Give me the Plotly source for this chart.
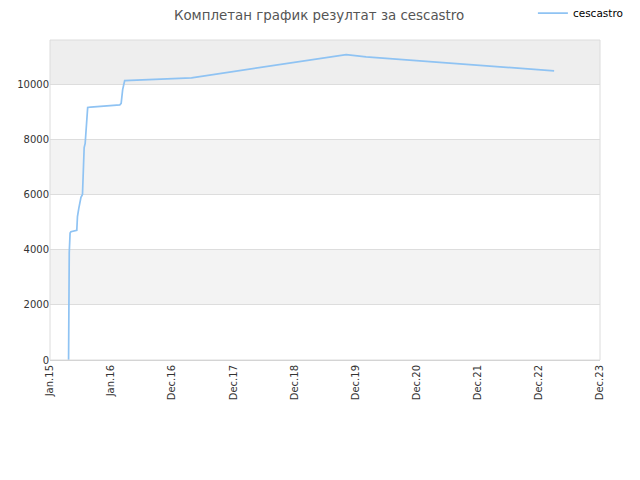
import plotly.graph_objects as go
import pandas as pd

title = "Комплетан график резултат за cescastro"
series_name = "cescastro"

dates = [
    "2015-04-22", "2015-04-23", "2015-04-26", "2015-05-01", "2015-05-06",
    "2015-06-10", "2015-06-14", "2015-06-22", "2015-07-05", "2015-07-14",
    "2015-07-20", "2015-07-24", "2015-07-30", "2015-08-08", "2015-08-14",
    "2015-09-01", "2015-11-15", "2016-01-20", "2016-02-22", "2016-03-01",
    "2016-03-10", "2016-03-22", "2016-07-08", "2016-12-01", "2017-04-25",
    "2019-11-05", "2020-03-03", "2023-03-31",
]
values = [
    0, 2800, 3900, 4600, 4650,
    4700, 5200, 5500, 5900, 6000,
    6900, 7700, 7850, 8600, 9150,
    9170, 9200, 9220, 9250, 9300,
    9800, 10130, 10160, 10200, 10230,
    11070, 10990, 10480,
]

tick_labels = ["Jan.15", "Jan.16", "Dec.16", "Dec.17", "Dec.18",
               "Dec.19", "Dec.20", "Dec.21", "Dec.22", "Dec.23"]
tick_start = pd.Timestamp("2015-01-01")
tick_step_days = 365
tick_vals = [tick_start + pd.Timedelta(days=tick_step_days * i) for i in range(len(tick_labels))]

y_max = 11600
band_edges = [0, 2000, 4000, 6000, 8000, 10000, y_max]
band_colors = ["#ffffff", "#f3f3f3", "#ffffff", "#f3f3f3", "#ffffff", "#eeeeee"]

fig = go.Figure()
fig.add_trace(go.Scatter(
    x=pd.to_datetime(dates), y=values, mode="lines", name=series_name,
    line=dict(color="#8fc3f3", width=1.7), showlegend=True,
))

shapes = []
for i, c in enumerate(band_colors):
    shapes.append(dict(type="rect", xref="paper", yref="y", x0=0, x1=1,
                       y0=band_edges[i], y1=band_edges[i + 1],
                       fillcolor=c, line=dict(width=0), layer="below"))
shapes.append(dict(type="rect", xref="paper", yref="paper", x0=0, x1=1, y0=0, y1=1,
                   line=dict(color="#dcdcdc", width=1), fillcolor="rgba(0,0,0,0)"))

# page body has an 8px margin; size the figure to fit the 640x480 window
fig.update_layout(
    width=624, height=464,
    margin=dict(l=42, r=32, t=32, b=112, autoexpand=False),
    paper_bgcolor="white", plot_bgcolor="white",
    font=dict(family="DejaVu Sans", size=10, color="#333333"),
    title=dict(text=title, x=0.4985, xref="container", y=1, yanchor="top",
               pad=dict(t=3, b=0),
               font=dict(size=13.4, color="#555555")),
    shapes=shapes,
    legend=dict(x=0.878, y=1.084, xanchor="left", yanchor="middle",
                bgcolor="rgba(0,0,0,0)", font=dict(size=10.5, color="#000000"),
                itemwidth=30),
    xaxis=dict(type="date", range=[tick_vals[0], tick_vals[-1]],
               tickmode="array", tickvals=tick_vals, ticktext=tick_labels,
               tickangle=-90, showgrid=False, zeroline=False,
               showline=True, linecolor="#cccccc", ticks="", ticklen=0),
    yaxis=dict(range=[0, y_max], tickvals=[0, 2000, 4000, 6000, 8000, 10000],
               showgrid=True, gridcolor="#dddddd", zeroline=False,
               showline=False, ticks="", tickformat="d"),
)

fig.write_html("out.html")
